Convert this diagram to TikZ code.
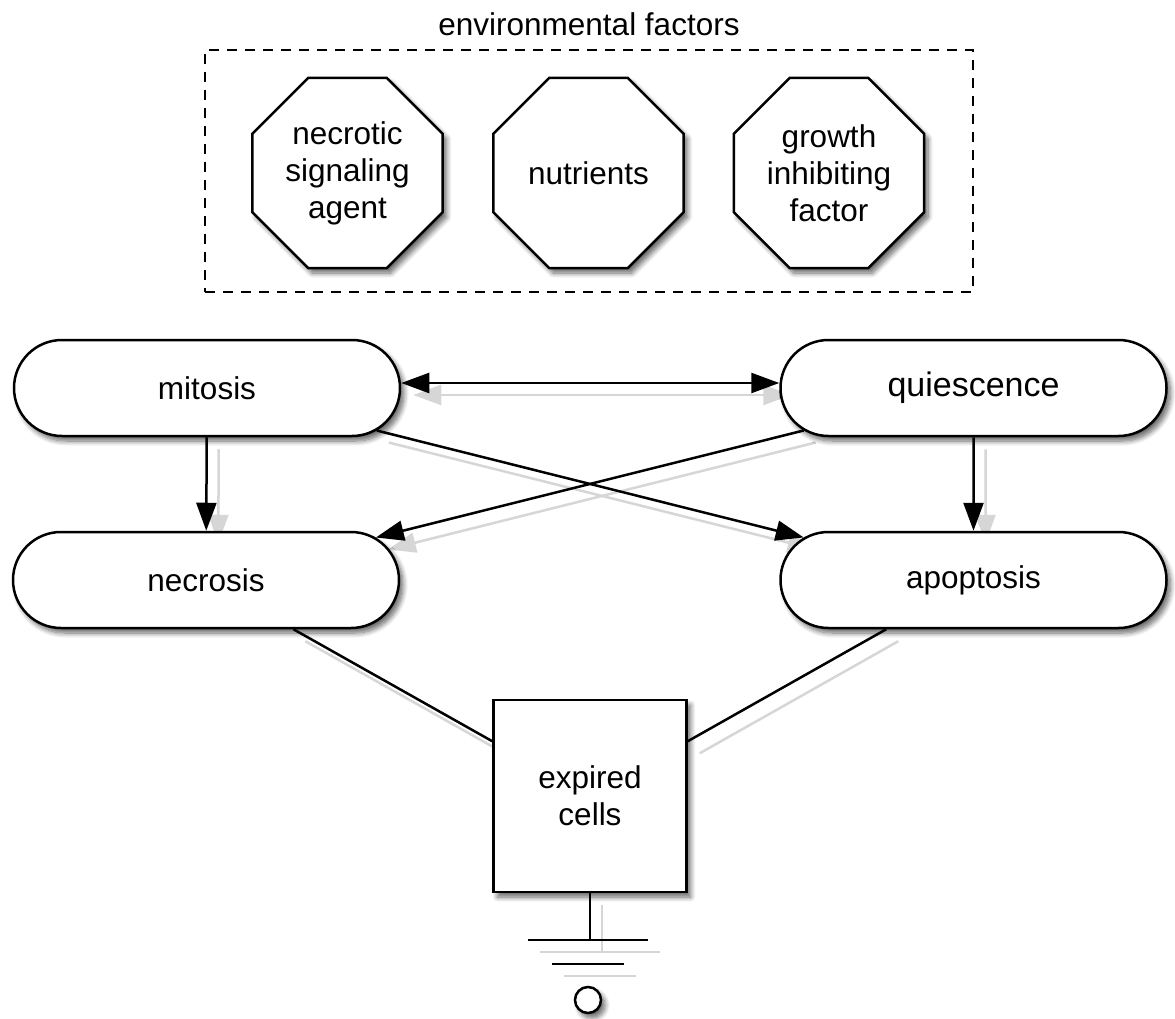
\documentclass[tikz,border=0pt]{standalone}
\usepackage{fontspec}
\setmainfont{Liberation Sans}
\usetikzlibrary{shapes.geometric,shapes.misc,arrows.meta,shadows.blur}
\pgfdeclarelayer{background}
\pgfsetlayers{background,main}
\tikzset{
 base/.style={draw=black, line width=2.5pt, fill=white, align=center,
   font=\fontsize{31.5}{37}\selectfont,
   blur shadow={shadow xshift=4pt, shadow yshift=-5pt, shadow blur steps=8, shadow blur radius=5pt, shadow opacity=60}},
 octo/.style={base, regular polygon, regular polygon sides=8, minimum size=205.7pt, inner sep=0pt},
 stadium/.style={base, rounded rectangle, minimum width=386pt, minimum height=96pt, inner sep=0pt},
 boxnode/.style={base, rectangle, minimum width=193pt, minimum height=192pt, inner sep=0pt},
 envbox/.style={draw=black, line width=2.3pt, dash pattern=on 10pt off 8pt, rectangle, minimum width=768pt, minimum height=242pt, inner sep=0pt},
 conn/.style={line width=2.5pt, draw=black},
 arr/.style={conn, -{Triangle[length=28pt,width=20pt]}},
 darr/.style={conn, {Triangle[length=28pt,width=20pt]}-{Triangle[length=28pt,width=20pt]}},
 shade/.style={draw=black!16, fill=black!16, transform canvas={xshift=12pt,yshift=-12pt}},
 titletext/.style={font=\fontsize{31.5}{37}\selectfont, inner sep=0pt},
}
\begin{document}
\begin{tikzpicture}[x=1pt,y=-1pt]
\useasboundingbox (0,0) rectangle (1175,1019);
% environment box
\node[envbox] (env) at (589,171) {};
\node[titletext] (envtitle) at (589,24) {environmental factors};
\node[octo] (nsa) at (347.5,173) {necrotic\\signaling\\agent};
\node[octo] (nut) at (588.5,173) {nutrients};
\node[octo] (gif) at (829,173) {growth\\inhibiting\\factor};
% states
\node[stadium] (mit) at (207,388) {mitosis};
\node[stadium, font=\fontsize{34}{40}\selectfont] (qui) at (973.5,388) {quiescence};
\node[stadium] (nec) at (206,580) {necrosis};
\node[stadium] (apo) at (973.5,580) {apoptosis};
\node[boxnode] (exp) at (590,796) {expired\\cells};
% ground
\coordinate (gs) at (590,940);
\coordinate (g1a) at (528,940);
\coordinate (g1b) at (648,940);
\coordinate (g2a) at (552,964);
\coordinate (g2b) at (624,964);
\node[base, circle, minimum size=26pt, inner sep=0pt] (gnd) at (588,1000) {};
% shadows of connectors
\begin{pgfonlayer}{background}
 \draw[darr, shade] ([yshift=5pt]mit.east) -- ([yshift=5pt]qui.west);
 \draw[arr, shade] (mit) -- (nec);
 \draw[arr, shade] (qui) -- (apo);
 \draw[arr, shade] (mit) -- (apo);
 \draw[arr, shade] (qui) -- (nec);
 \draw[conn, shade] (nec) -- (exp);
 \draw[conn, shade] (apo) -- (exp);
 \draw[conn, shade] (exp.south) -- (gs);
 \draw[conn, shade] (g1a) -- (g1b);
 \draw[conn, shade] (g2a) -- (g2b);
\end{pgfonlayer}
% connectors
\draw[darr] ([yshift=5pt]mit.east) -- ([yshift=5pt]qui.west);
\draw[arr] (mit) -- (nec);
\draw[arr] (qui) -- (apo);
\draw[arr] (mit) -- (apo);
\draw[arr] (qui) -- (nec);
\draw[conn] (nec) -- (exp);
\draw[conn] (apo) -- (exp);
\draw[conn] (exp.south) -- (gs);
\draw[conn] (g1a) -- (g1b);
\draw[conn] (g2a) -- (g2b);
\end{tikzpicture}
\end{document}
